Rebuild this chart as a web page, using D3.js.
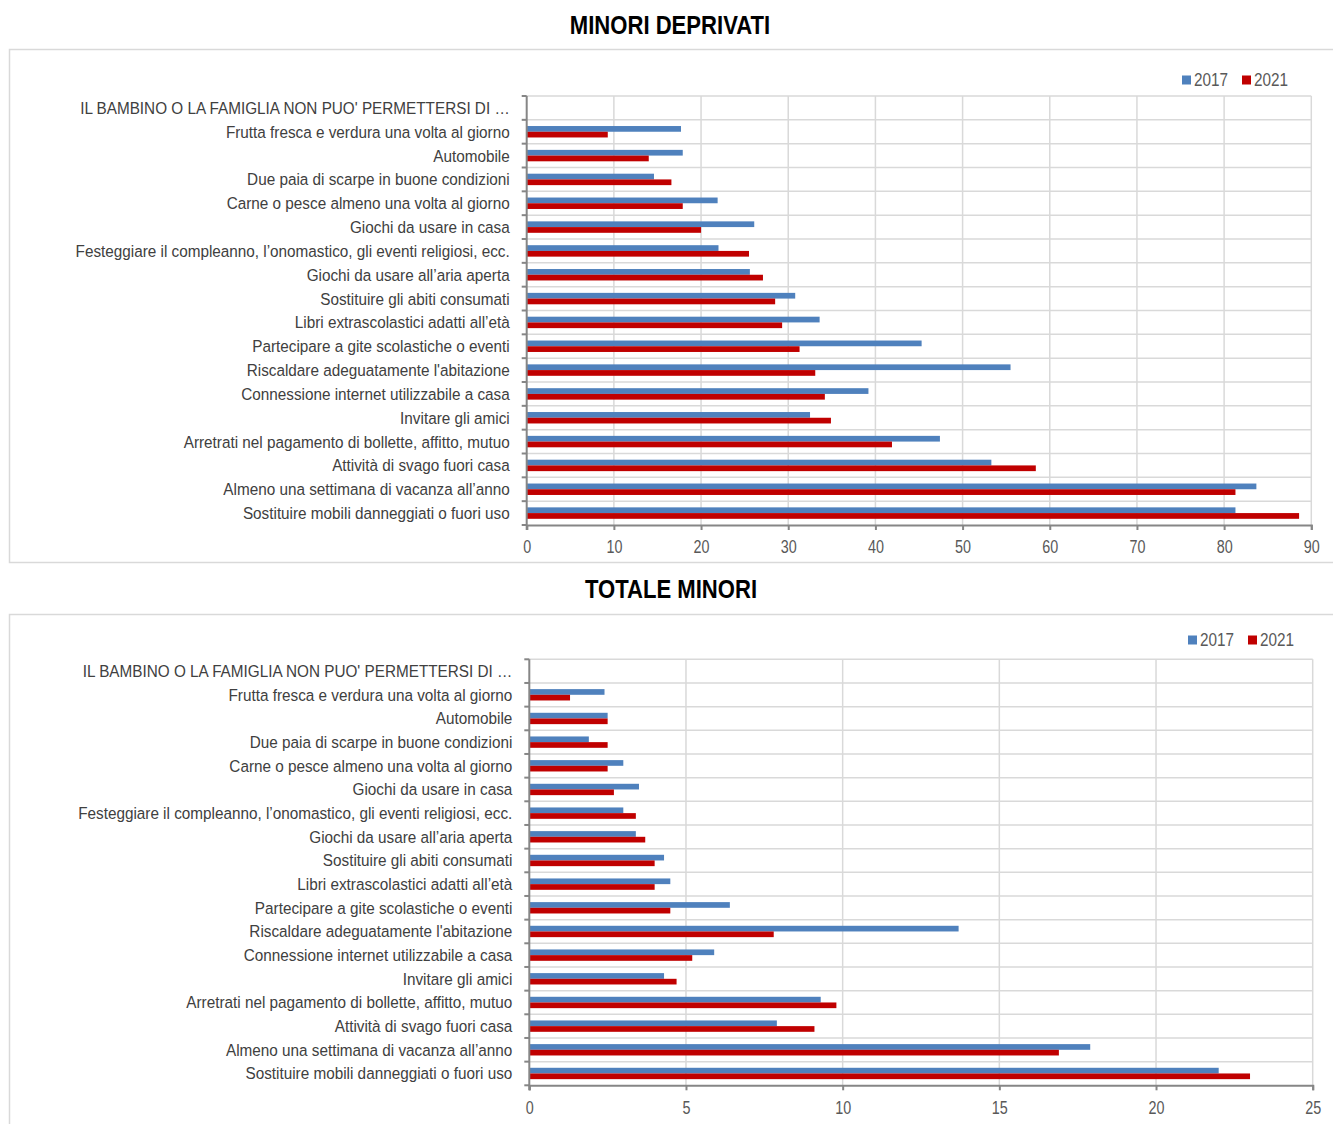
<!DOCTYPE html>
<html>
<head>
<meta charset="utf-8">
<script src="https://cdn.jsdelivr.net/npm/d3@7"></script>
<style>
  html, body { margin: 0; padding: 0; background: #fff; }
  svg { display: block; }
  .narrow { font-family: "Liberation Sans", Arial, sans-serif; }
</style>
</head>
<body>
<svg id="chart" width="1333" height="1124"></svg>
<script>
// Deprivation items (first row is the group heading, no values)
const categories = [
  "IL BAMBINO O LA FAMIGLIA NON PUO' PERMETTERSI DI …",
  "Frutta fresca e verdura una volta al giorno",
  "Automobile",
  "Due paia di scarpe in buone condizioni",
  "Carne o pesce almeno una volta al giorno",
  "Giochi da usare in casa",
  "Festeggiare il compleanno, l’onomastico, gli eventi religiosi, ecc.",
  "Giochi da usare all’aria aperta",
  "Sostituire gli abiti consumati",
  "Libri extrascolastici adatti all’età",
  "Partecipare a gite scolastiche o eventi",
  "Riscaldare adeguatamente l'abitazione",
  "Connessione internet utilizzabile a casa",
  "Invitare gli amici",
  "Arretrati nel pagamento di bollette, affitto, mutuo",
  "Attività di svago fuori casa",
  "Almeno una settimana di vacanza all’anno",
  "Sostituire mobili danneggiati o fuori uso"
];

const seriesNames = ["2017", "2021"];

// Minori deprivati (%)
const deprivati2017 = [null, 17.7, 17.9, 14.6, 21.9, 26.1, 22.0, 25.6, 30.8, 33.6, 45.3, 55.5, 39.2, 32.5, 47.4, 53.3, 83.7, 81.3];
const deprivati2021 = [null, 9.3, 14.0, 16.6, 17.9, 20.0, 25.5, 27.1, 28.5, 29.3, 31.3, 33.1, 34.2, 34.9, 41.9, 58.4, 81.3, 88.6];

// Totale minori (%)
const totale2017 = [null, 2.4, 2.5, 1.9, 3.0, 3.5, 3.0, 3.4, 4.3, 4.5, 6.4, 13.7, 5.9, 4.3, 9.3, 7.9, 17.9, 22.0];
const totale2021 = [null, 1.3, 2.5, 2.5, 2.5, 2.7, 3.4, 3.7, 4.0, 4.0, 4.5, 7.8, 5.2, 4.7, 9.8, 9.1, 16.9, 23.0];

const ticksDeprivati = [0, 10, 20, 30, 40, 50, 60, 70, 80, 90];
const ticksTotale = [0, 5, 10, 15, 20, 25];

const colors = ["#4f81bd", "#c00000"];
const gridColor = "#d9d9d9";
const axisColor = "#868686";
const textColor = "#404040";

const svg = d3.select("#chart");

// place a text node at (x, y) with a horizontal squeeze for a narrow sans look
function placeNarrow(sel, fx, fy, k) {
  sel.attr("class", "narrow")
    .attr("x", 0).attr("y", 0)
    .attr("transform", (d, i) => `translate(${fx(d, i)},${fy(d, i)}) scale(${k},1)`);
}

function drawPanel(opts) {
  const g = svg.append("g");

  // title
  g.append("text")
    .call(placeNarrow, () => opts.titleX, () => opts.titleY, 0.85)
    .attr("text-anchor", "middle")
    .attr("font-size", 26)
    .attr("font-weight", "bold")
    .attr("fill", "#000")
    .text(opts.title);

  // chart frame
  g.append("rect")
    .attr("x", opts.frame[0] + 0.5)
    .attr("y", opts.frame[1] + 0.5)
    .attr("width", opts.frame[2])
    .attr("height", opts.frame[3])
    .attr("fill", "none")
    .attr("stroke", gridColor)
    .attr("stroke-width", 1.5);

  const x = d3.scaleLinear().domain(opts.domain).range([opts.left, opts.right]);
  const y = d3.scaleBand().domain(categories).range([opts.top, opts.bottom])
    .paddingInner(0.52).paddingOuter(0.26);
  const rowStep = (opts.bottom - opts.top) / categories.length;
  const inner = d3.scaleBand().domain(seriesNames).range([0, y.bandwidth()]);

  // vertical gridlines
  g.append("g").selectAll("line").data(opts.ticks.slice(1)).join("line")
    .attr("x1", d => x(d)).attr("x2", d => x(d))
    .attr("y1", opts.top).attr("y2", opts.bottom)
    .attr("stroke", gridColor).attr("stroke-width", 1.5);

  // horizontal row boundaries
  const bounds = d3.range(categories.length + 1).map(i => opts.top + i * rowStep);
  g.append("g").selectAll("line").data(bounds.slice(0, -1)).join("line")
    .attr("x1", opts.left).attr("x2", opts.right)
    .attr("y1", d => d).attr("y2", d => d)
    .attr("stroke", gridColor).attr("stroke-width", 1.5);

  // bars
  const rows = categories.map((c, i) => ({ cat: c, values: [opts.series[0][i], opts.series[1][i]] }));
  const rowG = g.append("g").selectAll("g").data(rows).join("g")
    .attr("transform", d => `translate(0,${y(d.cat)})`);
  rowG.selectAll("rect")
    .data(d => d.values.map((v, k) => ({ v, k })).filter(e => e.v != null))
    .join("rect")
    .attr("x", x(0))
    .attr("y", e => inner(seriesNames[e.k]))
    .attr("width", e => x(e.v) - x(0))
    .attr("height", inner.bandwidth())
    .attr("fill", e => colors[e.k]);

  // left axis line and ticks
  g.append("line")
    .attr("x1", opts.left).attr("x2", opts.left)
    .attr("y1", opts.top).attr("y2", opts.bottom + 5)
    .attr("stroke", axisColor).attr("stroke-width", 2);
  g.append("g").selectAll("line").data(bounds).join("line")
    .attr("x1", opts.left - 5).attr("x2", opts.left)
    .attr("y1", d => d).attr("y2", d => d)
    .attr("stroke", axisColor).attr("stroke-width", 2);

  // category labels
  g.append("g").selectAll("text").data(categories).join("text")
    .call(placeNarrow, () => opts.left - 17, d => y(d) + y.bandwidth() / 2, 0.9)
    .attr("dy", "0.35em")
    .attr("text-anchor", "end")
    .attr("font-size", 17)
    .attr("fill", textColor)
    .text(d => d);

  // bottom axis
  const axis = d3.axisBottom(x).tickValues(opts.ticks).tickSize(5).tickPadding(11).tickFormat(d3.format("d"));
  const ax = g.append("g").attr("transform", `translate(0,${opts.bottom})`).call(axis);
  ax.select(".domain").attr("stroke", axisColor).attr("stroke-width", 2);
  ax.selectAll(".tick line").attr("stroke", axisColor).attr("stroke-width", 2);
  ax.selectAll(".tick text")
    .attr("class", "narrow")
    .attr("transform", "scale(0.82,1)")
    .attr("font-size", 17.5)
    .attr("fill", "#595959");

  // legend
  const lg = g.append("g").attr("transform", `translate(${opts.legendX},${opts.legendY})`);
  const items = lg.selectAll("g").data(seriesNames).join("g")
    .attr("transform", (d, i) => `translate(${i * 60},0)`);
  items.append("rect")
    .attr("x", 0).attr("y", -4.5).attr("width", 9).attr("height", 9)
    .attr("fill", (d, i) => colors[i]);
  items.append("text")
    .call(placeNarrow, () => 12, () => 0, 0.85)
    .attr("dy", "0.35em")
    .attr("font-size", 18)
    .attr("fill", "#595959")
    .text(d => d);
}

drawPanel({
  title: "MINORI DEPRIVATI", titleX: 670, titleY: 34,
  frame: [9, 49, 1330, 513],
  domain: [0, 90], ticks: ticksDeprivati,
  left: 526.7, right: 1311.3, top: 96, bottom: 525,
  series: [deprivati2017, deprivati2021],
  legendX: 1182, legendY: 80
});

drawPanel({
  title: "TOTALE MINORI", titleX: 671, titleY: 598,
  frame: [9, 614, 1330, 520],
  domain: [0, 25], ticks: ticksTotale,
  left: 529.3, right: 1312.7, top: 659.3, bottom: 1085.3,
  series: [totale2017, totale2021],
  legendX: 1188, legendY: 640
});
</script>
</body>
</html>
